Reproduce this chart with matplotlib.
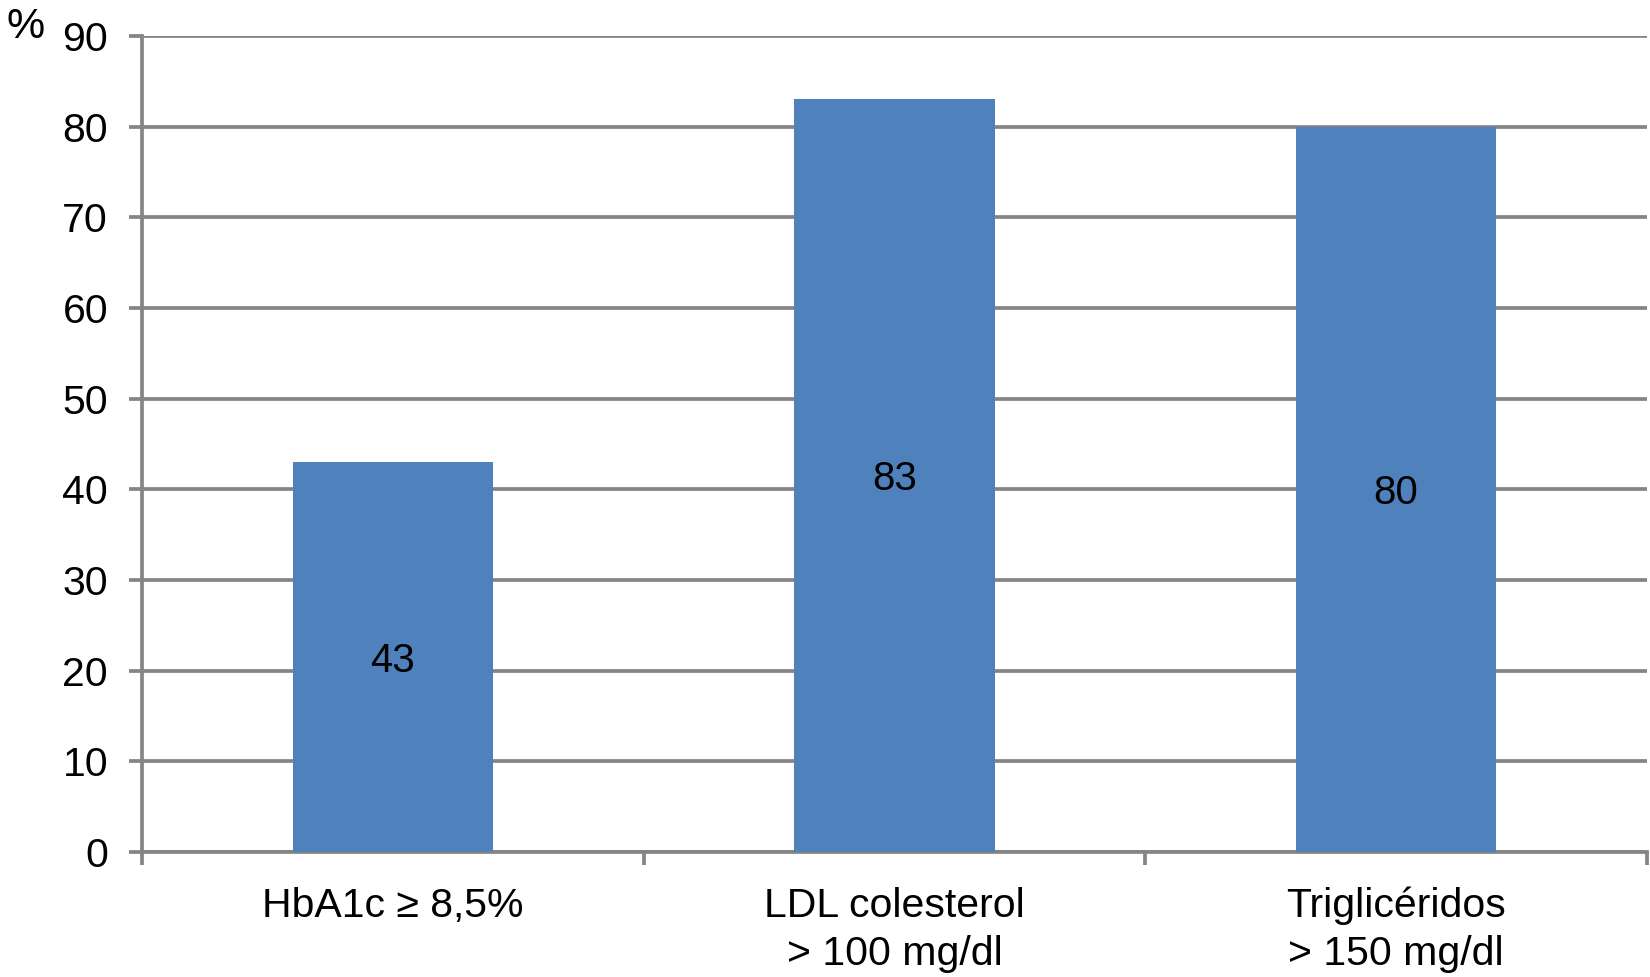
import matplotlib
matplotlib.use("Agg")
import matplotlib.pyplot as plt
from matplotlib.ticker import FixedLocator, NullFormatter

categories = ["HbA1c ≥ 8,5%", "LDL colesterol\n> 100 mg/dl", "Triglicéridos\n> 150 mg/dl"]
values = [43, 83, 80]
yticks = [0, 10, 20, 30, 40, 50, 60, 70, 80, 90]

plt.rcParams['font.family'] = ['Liberation Sans', 'DejaVu Sans']
grid_c = '#858585'
bar_c = '#4F81BD'

fig = plt.figure(figsize=(16.5, 9.77), dpi=100)
ax = fig.add_axes([142/1650, 1 - 852/977, (1647 - 142)/1650, (852 - 36)/977])

x = [i + 0.5 for i in range(len(categories))]
bars = ax.bar(x, values, width=0.4, color=bar_c, zorder=3)
for xi, v in zip(x, values):
    ax.text(xi, v / 2 - 0.4, str(v), ha='center', va='center', fontsize=29, color='black', zorder=4)

ax.set_xlim(0, len(categories))
ax.set_ylim(0, 90)
ax.set_yticks(yticks)
ax.set_yticklabels([str(t) for t in yticks])
ax.yaxis.grid(True, color=grid_c, linewidth=2.7, zorder=1)
ax.set_axisbelow(True)

ax.xaxis.set_major_locator(FixedLocator(list(range(len(categories) + 1))))
ax.xaxis.set_major_formatter(NullFormatter())
ax.xaxis.set_minor_locator(FixedLocator(x))
ax.set_xticklabels(categories, minor=True)
ax.tick_params(axis='x', which='major', length=9, width=2.7, color=grid_c, direction='out')
ax.tick_params(axis='x', which='minor', length=0, pad=25, labelsize=29.5)
ax.tick_params(axis='y', length=9.4, width=2.7, color=grid_c, pad=15, labelsize=29.5)
for lab in ax.get_xticklabels(minor=True):
    lab.set_linespacing(1.33)

for s in ['top', 'right']:
    ax.spines[s].set_visible(False)
for s in ['left', 'bottom']:
    ax.spines[s].set_color(grid_c)
    ax.spines[s].set_linewidth(2.7)

fig.text(26/1650, 1 - 27/977, '%', ha='center', va='center', fontsize=31)

fig.savefig('out.png', dpi=100, facecolor='white')
